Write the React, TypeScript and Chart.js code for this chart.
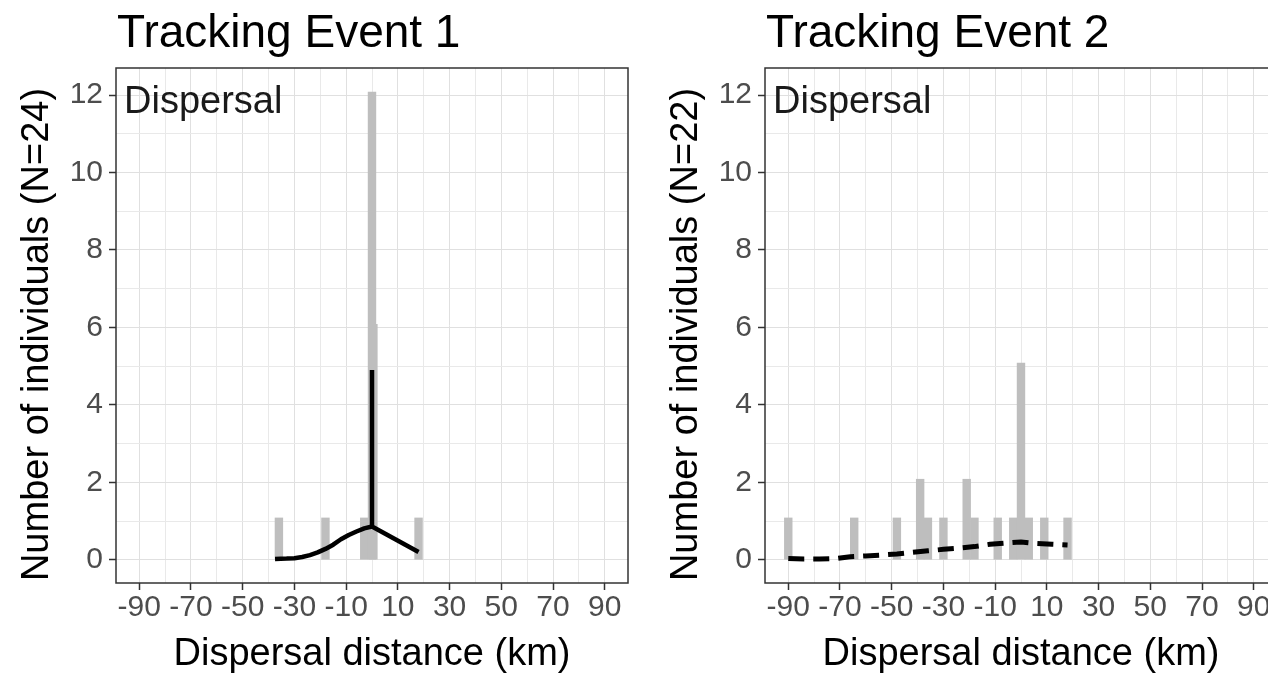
import React, { useEffect, useRef } from "react";
import { Chart, registerables } from "chart.js";

Chart.register(...registerables);

// ---------- data ----------
const X_MAJOR = [-90, -70, -50, -30, -10, 10, 30, 50, 70, 90];
const X_MINOR = [-80, -60, -40, -20, 0, 20, 40, 60, 80];
const Y_MAJOR = [0, 2, 4, 6, 8, 10, 12];
const Y_MINOR = [1, 3, 5, 7, 9, 11];
const X_MIN = -99;
const X_MAX = 99;
const Y_MIN = -0.6;
const Y_MAX = 12.7;

const PANEL_TITLES = ["Tracking Event 1", "Tracking Event 2"];
const Y_TITLES = ["Number of individuals (N=24)", "Number of individuals (N=22)"];
const X_TITLE = "Dispersal distance (km)";
const PANEL_LABEL = "Dispersal";

// Tracking event 1 histogram (bin centres, bar heights)
const E1_BIN_X = [-36, -18, -3, 0, 18];
const E1_BIN_Y = [1.08, 1.08, 1.08, 12.08, 1.08];
const E1_OVER_X = [0.5];
const E1_OVER_Y = [6.08];
// Tracking event 1 kernel line
const E1_LINE_X = [-37.5, -33, -30, -27, -24, -21, -18, -15, -12, -9, -6, -3, 0, 0, 0, 3, 6, 9, 12, 15, 18];
const E1_LINE_Y = [0.02, 0.03, 0.04, 0.07, 0.12, 0.19, 0.28, 0.39, 0.53, 0.64, 0.73, 0.81, 0.86, 4.9, 0.86, 0.75, 0.64, 0.53, 0.42, 0.31, 0.2];

// Tracking event 2 histogram
const E2_BIN_X = [-90, -64.5, -48, -39, -36, -30, -21, -18, -9, -3, 0, 3, 9, 18];
const E2_BIN_Y = [1.08, 1.08, 1.08, 2.08, 1.08, 1.08, 2.08, 1.08, 1.08, 1.08, 5.08, 1.08, 1.08, 1.08];
// Tracking event 2 kernel line (dashed)
const E2_LINE_X = [-90, -84, -78, -72, -66, -60, -54, -48, -42, -36, -30, -24, -18, -12, -6, 0, 6, 12, 18];
const E2_LINE_Y = [0.03, 0.02, 0.02, 0.03, 0.08, 0.1, 0.12, 0.15, 0.19, 0.23, 0.27, 0.3, 0.34, 0.4, 0.43, 0.46, 0.42, 0.4, 0.38];

// ---------- styling ----------
const FONT = '"Liberation Sans", Arial, Helvetica, sans-serif';
const CANVAS_W = 649;
const CANVAS_H = 676;

const zip = (xs: number[], ys: number[]) => xs.map((x, i) => ({ x, y: ys[i] }));

function buildConfig(idx: number) {
  const binsX = idx === 0 ? E1_BIN_X : E2_BIN_X;
  const binsY = idx === 0 ? E1_BIN_Y : E2_BIN_Y;
  const lineX = idx === 0 ? E1_LINE_X : E2_LINE_X;
  const lineY = idx === 0 ? E1_LINE_Y : E2_LINE_Y;

  const datasets: any[] = [
    {
      type: "line",
      data: zip(lineX, lineY),
      borderColor: "#000000",
      borderWidth: idx === 0 ? 4.5 : 5,
      borderDash: idx === 0 ? [] : [16, 9],
      borderCapStyle: "butt",
      borderJoinStyle: "bevel",
      pointRadius: 0,
      tension: 0,
      fill: false,
      order: 0,
    },
    {
      type: "bar",
      data: zip(binsX, binsY),
      backgroundColor: "#bebebe",
      borderWidth: 0,
      barPercentage: 1,
      categoryPercentage: 1,
      grouped: false,
      order: 1,
    },
  ];
  if (idx === 0) {
    datasets.push({
      type: "bar",
      xAxisID: "x2",
      data: zip(E1_OVER_X, E1_OVER_Y),
      backgroundColor: "#bebebe",
      borderWidth: 0,
      barThickness: 8,
      grouped: false,
      order: 2,
    });
  }

  const isMajorX = (v: number) => X_MAJOR.includes(v);
  const isMajorY = (v: number) => Y_MAJOR.includes(v);

  const decor = {
    id: "decor",
    beforeDraw(chart: any) {
      const { ctx } = chart;
      ctx.save();
      ctx.fillStyle = "#ffffff";
      ctx.fillRect(0, 0, chart.width, chart.height);
      ctx.restore();
    },
    afterDraw(chart: any) {
      const { ctx, chartArea: a } = chart;
      ctx.save();
      ctx.strokeStyle = "#333333";
      ctx.lineWidth = 1.5;
      ctx.strokeRect(a.left, a.top, a.right - a.left, a.bottom - a.top);
      ctx.fillStyle = "#000000";
      ctx.textAlign = "left";
      ctx.textBaseline = "alphabetic";
      ctx.font = `46px ${FONT}`;
      ctx.fillText(PANEL_TITLES[idx], a.left + 1, 47);
      ctx.fillStyle = "#1a1a1a";
      ctx.font = `38px ${FONT}`;
      ctx.fillText(PANEL_LABEL, a.left + 8, a.top + 45);
      // y-axis title
      ctx.save();
      ctx.translate(38, (a.top + a.bottom) / 2 + 9);
      ctx.rotate(-Math.PI / 2);
      ctx.textAlign = "center";
      ctx.textBaseline = "middle";
      ctx.fillStyle = "#000000";
      ctx.font = `38px ${FONT}`;
      ctx.fillText(Y_TITLES[idx], 0, 0);
      ctx.restore();
      ctx.restore();
    },
  };

  return {
    type: "bar",
    data: { datasets },
    plugins: [decor],
    options: {
      animation: false,
      responsive: false,
      devicePixelRatio: 1,
      events: [],
      layout: { padding: { top: 68, right: 21, left: 0, bottom: 0 } },
      plugins: { legend: { display: false }, tooltip: { enabled: false }, title: { display: false } },
      scales: {
        x: {
          type: "linear",
          min: X_MIN,
          max: X_MAX,
          offset: false,
          afterBuildTicks: (s: any) => {
            s.ticks = [...X_MAJOR, ...X_MINOR].sort((a, b) => a - b).map((v) => ({ value: v }));
          },
          afterFit: (s: any) => {
            s.height = 93;
          },
          ticks: {
            autoSkip: false,
            maxRotation: 0,
            minRotation: 0,
            padding: 0,
            color: "#4d4d4d",
            font: { size: 30, family: FONT, lineHeight: 1.2 },
            callback: (v: any) => (isMajorX(v) ? String(v) : ""),
          },
          grid: {
            offset: false,
            drawTicks: true,
            tickLength: 7,
            color: (c: any) => (c.tick && isMajorX(c.tick.value) ? "#e0e0e0" : "#e9e9e9"),
            lineWidth: 1,
            tickColor: (c: any) => (c.tick && isMajorX(c.tick.value) ? "#333333" : "rgba(0,0,0,0)"),
            tickWidth: 1.5,
          },
          border: { display: false },
          title: {
            display: true,
            text: X_TITLE,
            color: "#000000",
            font: { size: 38, family: FONT, lineHeight: 1 },
            padding: { top: 0, bottom: 2 },
          },
        },
        x2: {
          type: "linear",
          min: X_MIN,
          max: X_MAX,
          offset: false,
          display: false,
        },
        y: {
          type: "linear",
          min: Y_MIN,
          max: Y_MAX,
          afterBuildTicks: (s: any) => {
            s.ticks = [...Y_MAJOR, ...Y_MINOR].sort((a, b) => a - b).map((v) => ({ value: v }));
          },
          afterFit: (s: any) => {
            s.width = 116;
          },
          ticks: {
            autoSkip: false,
            padding: 6,
            color: "#4d4d4d",
            font: { size: 30, family: FONT, lineHeight: 1.2 },
            callback: (v: any) => (isMajorY(v) ? String(v) : ""),
          },
          grid: {
            drawTicks: true,
            tickLength: 7,
            color: (c: any) => (c.tick && isMajorY(c.tick.value) ? "#e0e0e0" : "#e9e9e9"),
            lineWidth: 1,
            tickColor: (c: any) => (c.tick && isMajorY(c.tick.value) ? "#333333" : "rgba(0,0,0,0)"),
            tickWidth: 1.5,
          },
          border: { display: false },
          title: { display: false },
        },
      },
    },
  };
}

function Panel({ idx, left }: { idx: number; left: number }) {
  const ref = useRef<HTMLCanvasElement | null>(null);
  useEffect(() => {
    if (!ref.current) return;
    const chart = new Chart(ref.current, buildConfig(idx) as any);
    return () => chart.destroy();
  }, [idx]);
  return (
    <canvas
      ref={ref}
      width={CANVAS_W}
      height={CANVAS_H}
      style={{ position: "absolute", left, top: 0, width: CANVAS_W, height: CANVAS_H, display: "block" }}
    />
  );
}

export default function App() {
  return (
    <div
      style={{
        position: "fixed",
        left: 0,
        top: 0,
        width: 1268,
        height: 676,
        overflow: "hidden",
        background: "#ffffff",
      }}
    >
      <Panel idx={0} left={0} />
      <Panel idx={1} left={649} />
    </div>
  );
}
